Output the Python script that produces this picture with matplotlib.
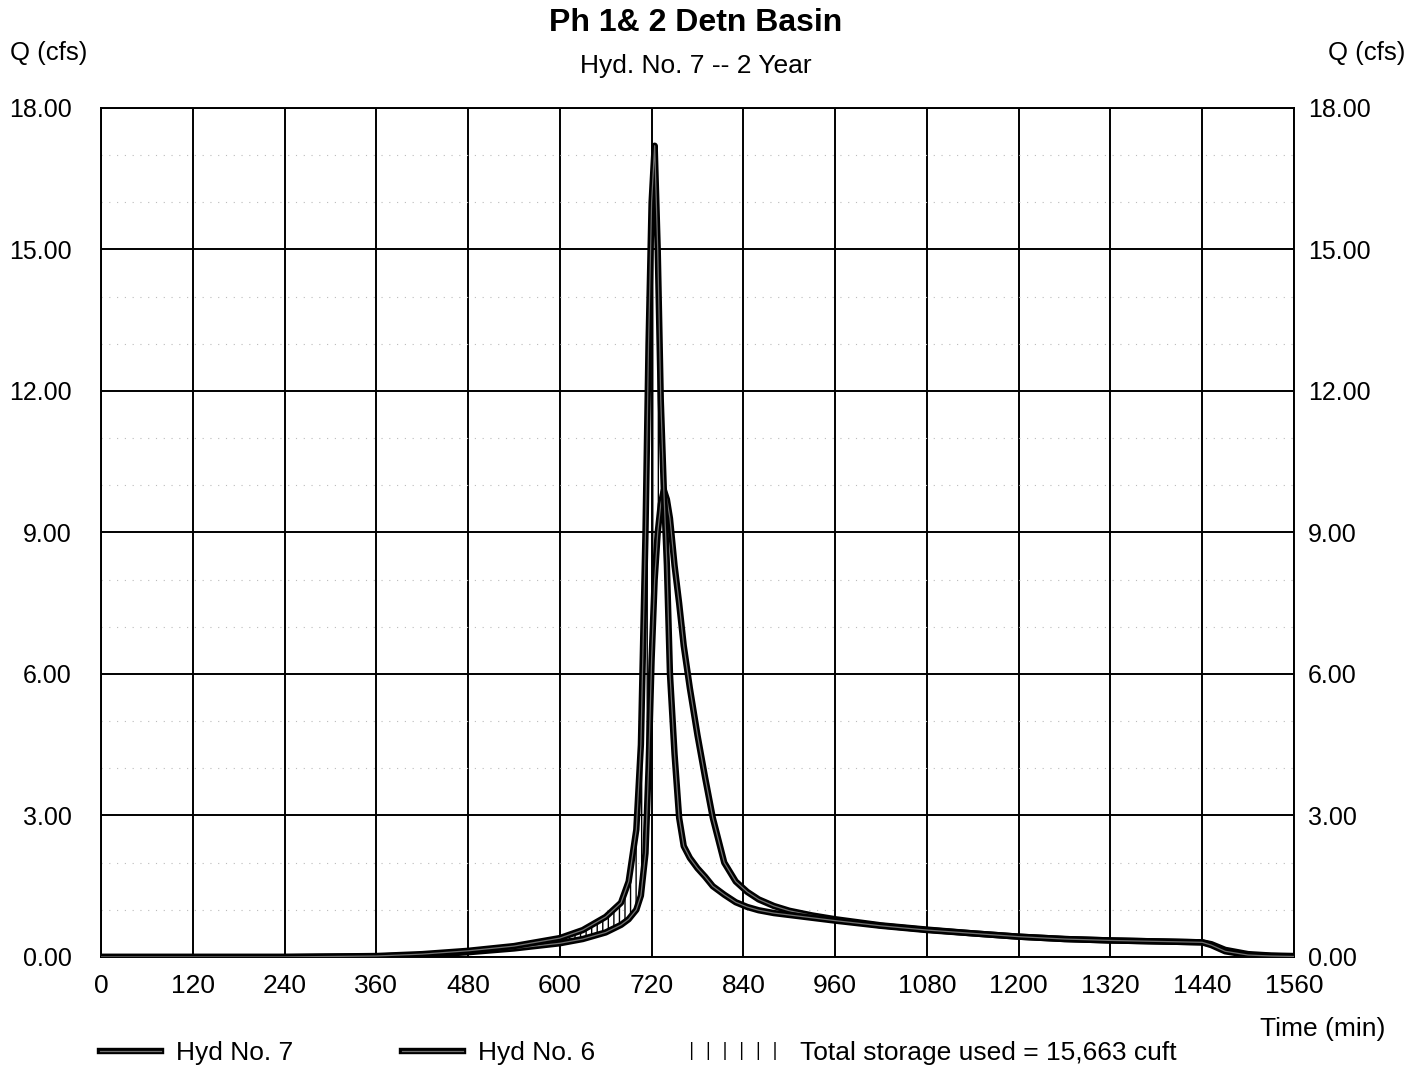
import matplotlib
matplotlib.use('Agg')
import matplotlib.pyplot as plt
import matplotlib.patheffects as pe
from matplotlib.ticker import MultipleLocator, FormatStrFormatter
from matplotlib.patches import Patch
import numpy as np

plt.rcParams['font.family'] = ['Liberation Sans', 'DejaVu Sans']
plt.rcParams['hatch.linewidth'] = 1.0

# time (min) shared by both hydrographs
time_min = [0, 120, 240, 360, 420, 480, 540, 600, 630, 660, 680, 690, 700, 706, 712,
            716, 720, 724, 728, 732, 736, 740, 744, 750, 756, 762, 770, 780, 790, 800,
            815, 830, 845, 860, 880, 900, 930, 960, 1020, 1080, 1140, 1200, 1260, 1320,
            1380, 1440, 1452, 1470, 1500, 1530, 1560]

# Hyd No. 6 (inflow)
hyd6 = [0.0, 0.0, 0.0, 0.02, 0.06, 0.13, 0.23, 0.4, 0.57, 0.85, 1.15, 1.6, 2.7, 4.5, 9.0,
        13.0, 16.0, 17.2, 15.0, 11.8, 9.9, 8.3, 6.0, 4.3, 2.95, 2.35, 2.1, 1.88, 1.7, 1.5,
        1.32, 1.16, 1.06, 0.99, 0.93, 0.89, 0.83, 0.77, 0.66, 0.57, 0.5, 0.43, 0.38, 0.35,
        0.33, 0.31, 0.25, 0.12, 0.04, 0.02, 0.01]

# Hyd No. 7 (outflow)
hyd7 = [0.0, 0.0, 0.0, 0.01, 0.04, 0.1, 0.18, 0.29, 0.38, 0.52, 0.68, 0.8, 1.0, 1.3, 2.2,
        4.0, 6.3, 8.0, 9.0, 9.6, 9.9, 9.7, 9.3, 8.3, 7.5, 6.6, 5.7, 4.7, 3.8, 2.95,
        2.0, 1.6, 1.38, 1.22, 1.08, 0.98, 0.88, 0.8, 0.67, 0.58, 0.5, 0.43, 0.38, 0.35,
        0.33, 0.31, 0.27, 0.15, 0.06, 0.03, 0.02]

x_ticks = list(range(0, 1561, 120))
y_ticks = [0, 3, 6, 9, 12, 15, 18]

fig = plt.figure(figsize=(14.22, 10.66), dpi=100)
ax = fig.add_axes([0.071, 0.1023, 0.839, 0.7964])

t = np.array(time_min)
q6 = np.array(hyd6)
q7 = np.array(hyd7)

# storage (inflow above outflow)
ax.fill_between(t, q7, q6, where=q6 >= q7, interpolate=True, facecolor='none',
                edgecolor='black', hatch='|||', linewidth=0, zorder=2)

fx = [pe.Stroke(linewidth=4.6, foreground='black'), pe.Normal()]
ax.plot(t, q7, color='#707070', lw=0.9, path_effects=fx, zorder=4)
ax.plot(t, q6, color='#707070', lw=0.9, path_effects=fx, zorder=5)

ax.set_xlim(0, 1560)
ax.set_ylim(0, 18)
ax.set_xticks(x_ticks)
ax.set_yticks(y_ticks)
ax.yaxis.set_major_formatter(FormatStrFormatter('%.2f'))
ax.yaxis.set_minor_locator(MultipleLocator(1))
ax.grid(True, which='major', color='black', lw=1.4)
ax.grid(True, which='minor', axis='y', color='#bbbbbb', lw=0.8, ls=(0, (1, 6)))
ax.tick_params(which='both', length=0)
ax.tick_params(axis='x', labelsize=19, pad=12)
ax.tick_params(axis='y', labelsize=18, pad=21)
for s in ax.spines.values():
    s.set_linewidth(1.4)

# right-hand Q axis labels
ax2 = ax.twinx()
ax2.set_ylim(0, 18)
ax2.set_yticks(y_ticks)
ax2.yaxis.set_major_formatter(FormatStrFormatter('%.2f'))
ax2.tick_params(length=0, labelsize=18, pad=10)
for s in ax2.spines.values():
    s.set_visible(False)

fig.text(0.4895, 0.978, 'Ph 1& 2 Detn Basin', ha='center', va='center', fontsize=23, fontweight='bold')
fig.text(0.4895, 0.938, 'Hyd. No. 7 -- 2 Year', ha='center', va='center', fontsize=19)
fig.text(0.007, 0.950, 'Q (cfs)', ha='left', va='center', fontsize=18.5)
fig.text(0.988, 0.950, 'Q (cfs)', ha='right', va='center', fontsize=18.5)
fig.text(0.974, 0.035, 'Time (min)', ha='right', va='center', fontsize=19)

h7 = plt.Line2D([], [], color='#707070', lw=0.9, path_effects=fx)
h6 = plt.Line2D([], [], color='#707070', lw=0.9, path_effects=fx)
hs = Patch(facecolor='none', edgecolor='black', hatch='|', linewidth=0)
fig.legend([h7, h6], ['Hyd No. 7', 'Hyd No. 6'],
           loc='center left', bbox_to_anchor=(0.0703, 0.012), ncol=2, frameon=False,
           fontsize=19, handlelength=2.3, columnspacing=4.1, borderpad=0, borderaxespad=0,
           handletextpad=0.6)
fig.legend([hs], ['Total storage used = 15,663 cuft'],
           loc='center left', bbox_to_anchor=(0.483, 0.012), frameon=False,
           fontsize=19, handlelength=3.8, borderpad=0, borderaxespad=0,
           handletextpad=0.5)

fig.savefig('out.png', dpi=100)
